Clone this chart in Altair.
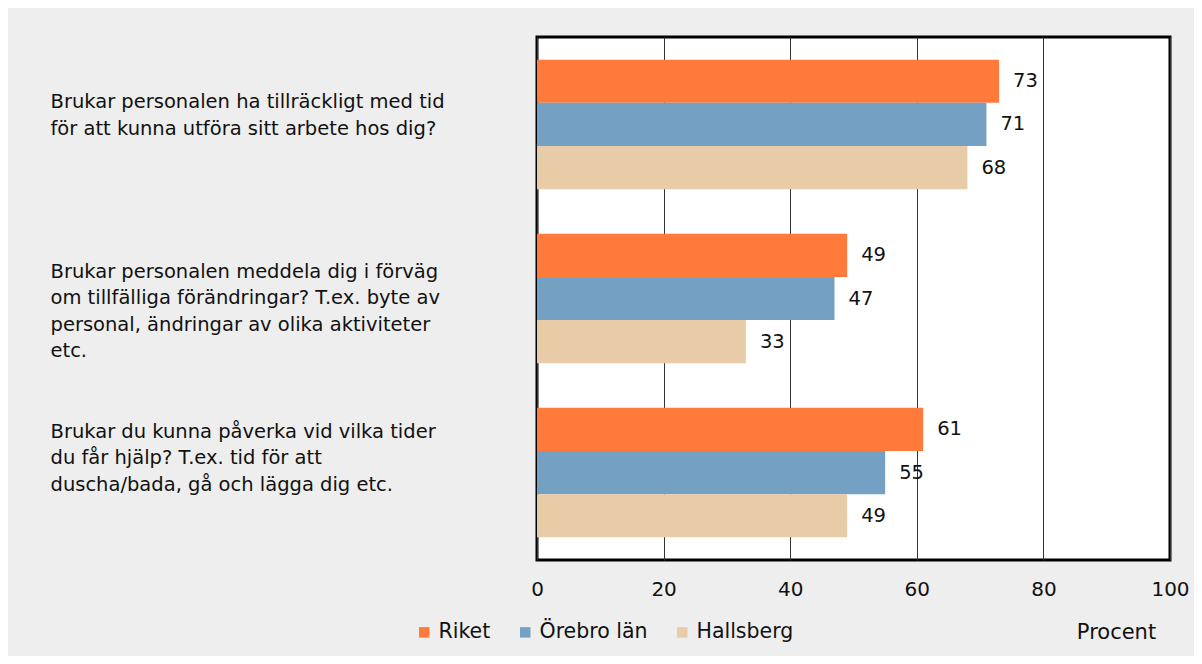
import altair as alt
import pandas as pd

questions = [
    "Brukar personalen ha tillräckligt med tid|för att kunna utföra sitt arbete hos dig?",
    "Brukar personalen meddela dig i förväg|om tillfälliga förändringar? T.ex. byte av|personal, ändringar av olika aktiviteter|etc.",
    "Brukar du kunna påverka vid vilka tider|du får hjälp? T.ex. tid för att|duscha/bada, gå och lägga dig etc.",
]
series = ["Riket", "Örebro län", "Hallsberg"]
riket = [73, 49, 61]
orebro = [71, 47, 55]
hallsberg = [68, 33, 49]
colors = ["#FF7A3B", "#74A1C3", "#E8CCA7"]
x_ticks = [0, 20, 40, 60, 80, 100]
label_shift = [-22, -27, -41]

rows = []
for i, q in enumerate(questions):
    for s, vals in zip(series, [riket, orebro, hallsberg]):
        rows.append({"question": q, "series": s, "value": vals[i]})
df = pd.DataFrame(rows)

FONT = "DejaVu Sans"

offset_cond = {
    "condition": [
        {"test": f"datum.value == '{q}'", "value": sh}
        for q, sh in zip(questions, label_shift)
    ],
    "value": 0,
}

y_enc = alt.Y(
    "question:N",
    sort=questions,
    scale=alt.Scale(paddingInner=0.256, paddingOuter=0.13),
    axis=alt.Axis(
        title=None,
        ticks=False,
        domain=False,
        labelAlign="left",
        labelPadding=487,
        labelLimit=480,
        labelFontSize=19.5,
        labelLineHeight=26.5,
        labelColor="#111",
        labelFont=FONT,
        labelBaseline="middle",
        labelOffset=offset_cond,
        labelExpr="split(datum.label, '|')",
    ),
)
yoff = alt.YOffset("series:N", sort=series, scale=alt.Scale(domain=series, paddingInner=0, paddingOuter=0))

x_enc = alt.X(
    "value:Q",
    scale=alt.Scale(domain=[0, 100], nice=False),
    axis=alt.Axis(
        values=x_ticks,
        title="Procent",
        titleFont=FONT,
        titleFontWeight="normal",
        titleFontSize=21,
        titleColor="#111",
        titleX=579,
        titleY=72,
        titleAlign="center",
        titleBaseline="middle",
        labelFont=FONT,
        labelFontSize=20,
        labelColor="#111",
        labelPadding=19,
        labelFlush=False,
        ticks=False,
        domain=False,
        grid=True,
        gridColor="#333333",
        gridWidth=1,
    ),
)

bars = alt.Chart(df).mark_bar().encode(
    x=x_enc,
    y=y_enc,
    yOffset=yoff,
    color=alt.Color(
        "series:N",
        sort=series,
        scale=alt.Scale(domain=series, range=colors),
        legend=alt.Legend(
            title=None,
            orient="none",
            direction="horizontal",
            legendX=-123,
            legendY=585,
            symbolType="square",
            symbolSize=110,
            symbolStrokeWidth=0,
            labelFont=FONT,
            labelFontSize=20.5,
            labelColor="#111",
            labelOffset=4,
            columnPadding=24,
        ),
    ),
)

labels = alt.Chart(df).mark_text(
    align="left", baseline="middle", dx=14, fontSize=19.5, font=FONT, color="#111"
).encode(
    x="value:Q",
    y=alt.Y("question:N", sort=questions),
    yOffset=alt.YOffset("series:N", sort=series),
    text="value:Q",
)

chart = (
    alt.layer(bars, labels)
    .properties(
        width=633,
        height=523,
        padding={"left": 529, "top": 29, "right": 24, "bottom": 96},
        autosize="none",
        background="#EEEEEE",
    )
    .configure_view(fill="white", stroke="black", strokeWidth=3)
)

chart.save("out.html", embed_options={"renderer": "svg", "actions": False})
